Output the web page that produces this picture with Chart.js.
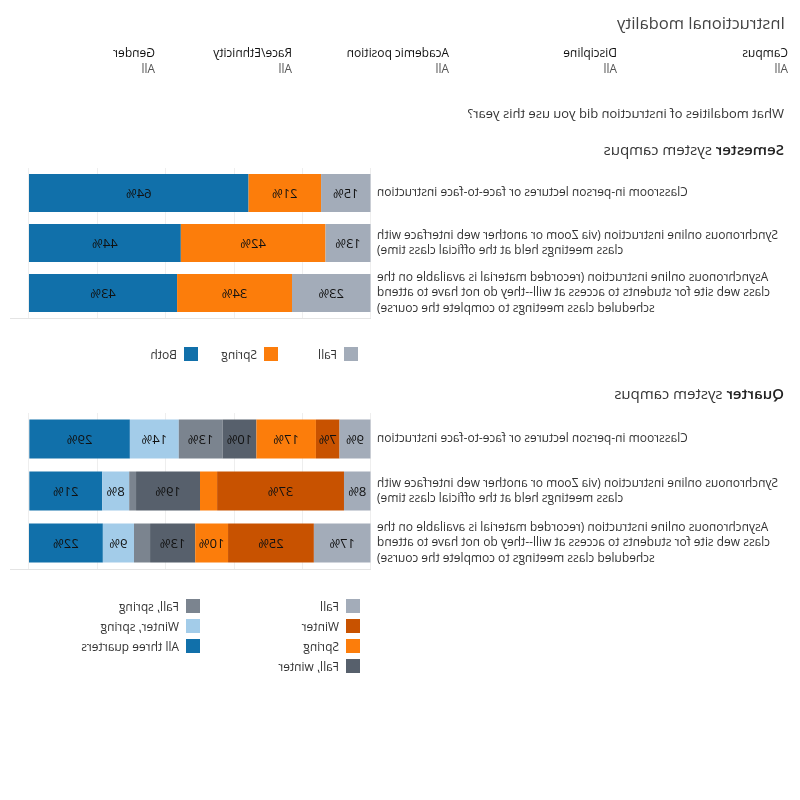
<!DOCTYPE html>
<html>
<head>
<meta charset="utf-8">
<script src="https://cdn.jsdelivr.net/npm/chart.js@4.4.1/dist/chart.umd.min.js"></script>
<style>
  html, body { margin: 0; padding: 0; background: #fff; }
  #page {
    position: relative; width: 800px; height: 800px; overflow: hidden;
    transform: scaleX(-1); transform-origin: 50% 50%;
    font-family: "Open Sans", sans-serif; color: #333;
  }
  .abs { position: absolute; white-space: nowrap; }
  #title { left: 15px; top: 12px; font-size: 16.5px; line-height: 22px; font-weight: 400; color: #444; }
  .filter { top: 45px; font-size: 12px; line-height: 16px; }
  .filter .fn { color: #111; font-weight: 400; }
  .filter .fv { color: #555; }
  .filter:nth-child(1) { left: 12px; }
  .filter:nth-child(2) { left: 183px; }
  .filter:nth-child(3) { left: 351px; }
  .filter:nth-child(4) { left: 508px; }
  .filter:nth-child(5) { left: 645px; }
  #question { left: 16px; top: 104px; font-size: 13px; line-height: 18px; color: #333; }
  .heading { left: 16px; font-size: 15px; line-height: 20px; color: #333; }
  .heading b { font-weight: 600; color: #222; }
  #semHead { top: 139px; }
  #qtrHead { top: 383px; }
  .chartbox { position: absolute; left: 0; width: 800px; }
  #semBox { top: 158px; height: 170px; }
  #qtrBox { top: 403px; height: 176px; }
  .legend { position: absolute; font-size: 12px; color: #333; }
  .legend .item { display: flex; align-items: center; height: 20px; }
  .legend .sw { width: 14px; height: 14px; margin-right: 7px; flex: none; }
  #semLegend { left: 442px; top: 344px; display: flex; }
  #semLegend .item { width: 80px; }
  #qtrLegend { left: 440px; top: 596px; display: grid; grid-template-rows: repeat(4, 20px); grid-auto-flow: column; grid-auto-columns: 160px; }
</style>
</head>
<body>
<div id="page">
  <div id="title" class="abs"></div>
  <div id="filters"></div>
  <div id="question" class="abs"></div>
  <div id="semHead" class="abs heading"><b>Semester</b> system campus</div>
  <div id="semBox" class="chartbox"><canvas id="semChart"></canvas></div>
  <div id="semLegend" class="legend"></div>
  <div id="qtrHead" class="abs heading"><b>Quarter</b> system campus</div>
  <div id="qtrBox" class="chartbox"><canvas id="qtrChart"></canvas></div>
  <div id="qtrLegend" class="legend"></div>
</div>
<script>
// ---------- data ----------
const pageTitle = "Instructional modality";
const filterNames = ["Campus", "Discipline", "Academic position", "Race/Ethnicity", "Gender"];
const filterValues = ["All", "All", "All", "All", "All"];
const question = "What modalities of instruction did you use this year?";

const categories = [
  ["Classroom in-person lectures or face-to-face instruction"],
  ["Synchronous online instruction (via Zoom or another web interface with",
   "class meetings held at the official class time)"],
  ["Asynchronous online instruction (recorded material is available on the",
   "class web site for students to access at will--they do not have to attend",
   "scheduled class meetings to complete the course)"]
];

const semesterSeries = ["Fall", "Spring", "Both"];
const semesterFall   = [14.6, 13.3, 23.1];
const semesterSpring = [21.2, 42.3, 33.6];
const semesterBoth   = [64.2, 44.4, 43.3];

const quarterSeries = ["Fall", "Winter", "Spring", "Fall, winter", "Fall, spring", "Winter, spring", "All three quarters"];
const quarterFall         = [9.2, 7.9, 16.7];
const quarterWinter       = [6.9, 37.1, 25.1];
const quarterSpring       = [17.4, 5.0, 9.6];
const quarterFallWinter   = [9.9, 18.7, 13.2];
const quarterFallSpring   = [12.8, 2.0, 4.7];
const quarterWinterSpring = [14.3, 7.9, 9.1];
const quarterAllThree     = [29.4, 21.3, 21.6];

const gridTicks = [0, 20, 40, 60, 80, 100];

// ---------- styles ----------
const semesterColors = ["#a3acb9", "#fc7d0b", "#1170aa"];
const quarterColors = ["#a3acb9", "#c85200", "#fc7d0b", "#57606c", "#7b848f", "#a3cce9", "#1170aa"];

// ---------- header text ----------
document.getElementById("title").textContent = pageTitle;
document.getElementById("question").textContent = question;
const fWrap = document.getElementById("filters");
filterNames.forEach((n, i) => {
  const d = document.createElement("div");
  d.className = "abs filter";
  d.innerHTML = '<div class="fn"></div><div class="fv"></div>';
  d.querySelector(".fn").textContent = n;
  d.querySelector(".fv").textContent = filterValues[i];
  fWrap.appendChild(d);
});

function buildLegend(id, names, colors) {
  const el = document.getElementById(id);
  names.forEach((n, i) => {
    const it = document.createElement("div");
    it.className = "item";
    const sw = document.createElement("span");
    sw.className = "sw"; sw.style.background = colors[i];
    const t = document.createElement("span");
    t.textContent = n;
    it.appendChild(sw); it.appendChild(t);
    el.appendChild(it);
  });
}
buildLegend("semLegend", semesterSeries, semesterColors);
buildLegend("qtrLegend", quarterSeries, quarterColors);

// ---------- charts ----------
const valueLabels = {
  id: "valueLabels",
  afterDatasetsDraw(chart) {
    const ctx = chart.ctx;
    ctx.save();
    ctx.font = "13px 'Open Sans', sans-serif";
    ctx.fillStyle = "#111";
    ctx.textAlign = "center";
    ctx.textBaseline = "middle";
    chart.data.datasets.forEach((ds, di) => {
      const meta = chart.getDatasetMeta(di);
      meta.data.forEach((bar, i) => {
        const v = ds.data[i];
        if (v < 6) return;
        const p = bar.getProps(["x", "y", "base"], true);
        ctx.fillText(Math.round(v) + "%", (p.x + p.base) / 2, p.y + 1);
      });
    });
    ctx.restore();
  }
};

function makeChart(canvasId, names, colors, series, barPct) {
  return new Chart(document.getElementById(canvasId), {
    type: "bar",
    data: {
      labels: categories,
      datasets: names.map((n, i) => ({
        label: n, data: series[i], backgroundColor: colors[i],
        borderWidth: 0, barPercentage: barPct, categoryPercentage: 1
      }))
    },
    options: {
      indexAxis: "y",
      responsive: true, maintainAspectRatio: false,
      animation: false,
      layout: { padding: { top: 10, bottom: 10, left: 0, right: 11 } },
      plugins: { legend: { display: false }, tooltip: { enabled: false } },
      scales: {
        x: {
          stacked: true, min: 0, max: 105.26,
          afterBuildTicks(s) { s.ticks = gridTicks.map(v => ({ value: v })); },
          afterFit(s) { s.height = 0; s.paddingLeft = 0; s.paddingRight = 0; },
          ticks: { display: false },
          grid: { color: "#eeeeee", drawTicks: false, lineWidth: 1 },
          border: { display: true, color: "#e4e4e4" }
        },
        y: {
          stacked: true,
          afterFit(s) { s.width = 429; s.paddingTop = 0; s.paddingBottom = 0; },
          ticks: { color: "#333", padding: 6, font: { family: "'Open Sans', sans-serif", size: 12, lineHeight: 1.3 } },
          grid: { display: false, drawTicks: false },
          border: { display: false }
        }
      }
    },
    plugins: [valueLabels]
  });
}

makeChart("semChart", semesterSeries, semesterColors,
  [semesterFall, semesterSpring, semesterBoth], 0.76);
makeChart("qtrChart", quarterSeries, quarterColors,
  [quarterFall, quarterWinter, quarterSpring, quarterFallWinter, quarterFallSpring, quarterWinterSpring, quarterAllThree], 0.75);
</script>
</body>
</html>
